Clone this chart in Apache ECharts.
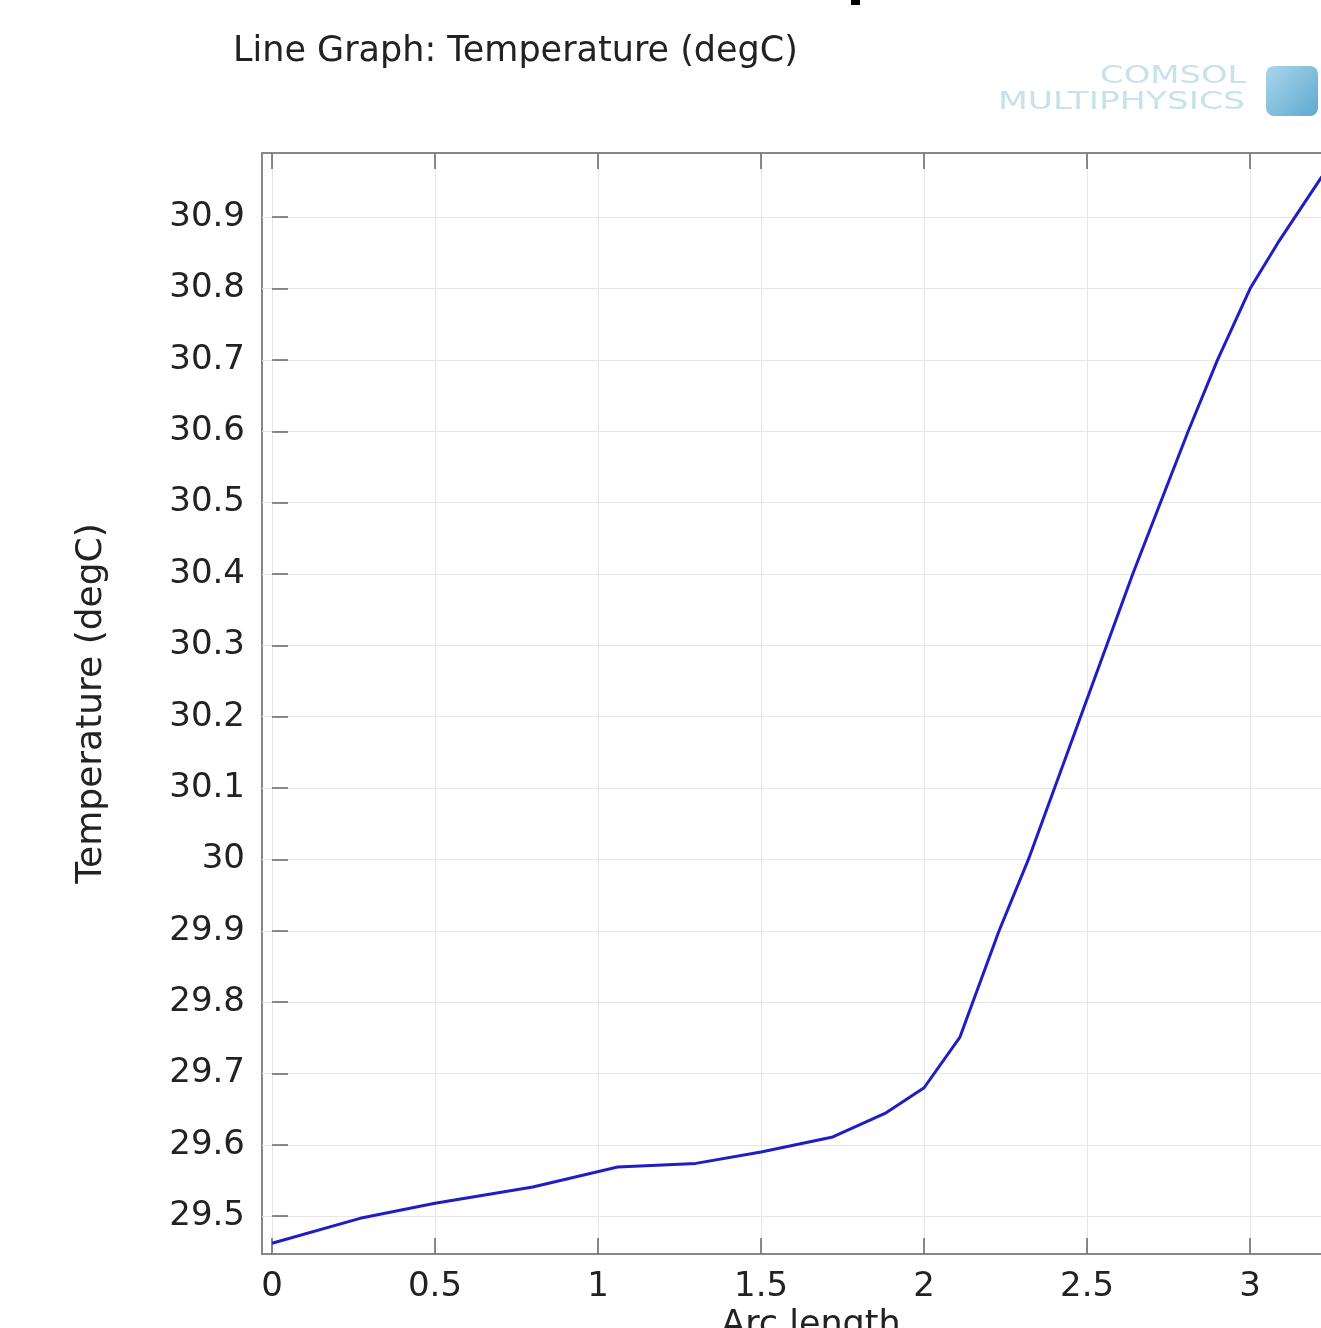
<!DOCTYPE html>
<html>
<head>
<meta charset="utf-8">
<script src="https://cdn.jsdelivr.net/npm/echarts@6/dist/echarts.min.js"></script>
<style>
  html, body {margin: 0; padding: 0; background: #fff; overflow: hidden;}
  #chart {width: 1400px; height: 1328px;}
</style>
</head>
<body>
<div id="chart"></div>
<script>
// values
const arcLength = [0, 0.27, 0.5, 0.8, 1.06, 1.3, 1.5, 1.72, 1.88, 2.0, 2.11, 2.23, 2.32, 2.48, 2.64, 2.81, 2.9, 3.0, 3.085, 3.22];
const temperature = [29.462, 29.497, 29.518, 29.541, 29.569, 29.574, 29.59, 29.611, 29.644, 29.68, 29.751, 29.9, 30.0, 30.2, 30.4, 30.6, 30.7, 30.8, 30.864, 30.957];
const xTicks = [0, 0.5, 1, 1.5, 2, 2.5, 3];
const yTicks = [29.5, 29.6, 29.7, 29.8, 29.9, 30, 30.1, 30.2, 30.3, 30.4, 30.5, 30.6, 30.7, 30.8, 30.9];

const font = 'DejaVu Sans';
const tickStyle = {show: true, inside: true, length: 16, lineStyle: {color: '#666', width: 1.5}};
const gridLine = {show: true, lineStyle: {color: '#e6e6e6', width: 1}};

const chart = echarts.init(document.getElementById('chart'));
chart.setOption({
  animation: false,
  backgroundColor: '#fff',
  title: {
    text: 'Line Graph: Temperature (degC)',
    left: 228,
    top: 29,
    textStyle: {fontFamily: font, fontSize: 35, fontWeight: 'normal', color: '#222'}
  },
  grid: {
    left: 262, top: 153, width: 1098, height: 1101,
    outerBoundsMode: 'none',
    show: true, borderColor: '#888', borderWidth: 2, backgroundColor: '#fff'
  },
  xAxis: [{
    type: 'value',
    min: -0.0307,
    max: 3.337,
    name: 'Arc length',
    nameLocation: 'middle',
    nameGap: 44,
    nameTextStyle: {fontFamily: font, fontSize: 35, color: '#222'},
    axisLine: {show: false},
    axisTick: {...tickStyle, customValues: xTicks},
    axisLabel: {customValues: xTicks, fontFamily: font, fontSize: 34, color: '#222', margin: 16},
    splitLine: gridLine
  }, {
    type: 'value',
    position: 'top',
    min: -0.0307,
    max: 3.337,
    axisLine: {show: false},
    axisTick: {...tickStyle, customValues: xTicks},
    axisLabel: {show: false, customValues: xTicks},
    splitLine: {show: false}
  }],
  yAxis: {
    type: 'value',
    min: 29.447,
    max: 30.99,
    name: 'Temperature (degC)',
    nameLocation: 'middle',
    nameGap: 152,
    nameTextStyle: {fontFamily: font, fontSize: 36, color: '#222'},
    axisLine: {show: false},
    axisTick: {...tickStyle, customValues: yTicks},
    axisLabel: {customValues: yTicks, fontFamily: font, fontSize: 34, color: '#222', margin: 17},
    splitLine: gridLine
  },
  graphic: [
    {type: 'rect', left: 851, top: 0, shape: {width: 9, height: 5}, style: {fill: '#000'}},
    {type: 'text', x: 1100, y: 65, scaleX: 1.41,
      style: {text: 'COMSOL', fontFamily: font, fontSize: 24, fill: '#c6e2ea'}},
    {type: 'text', x: 998, y: 91, scaleX: 1.44,
      style: {text: 'MULTIPHYSICS', fontFamily: font, fontSize: 24, fill: '#c6e2ea'}},
    {type: 'rect', x: 1266, y: 66, shape: {width: 52, height: 50, r: 8},
      style: {fill: new echarts.graphic.LinearGradient(0, 0, 1, 1, [
        {offset: 0, color: '#a9d6ea'}, {offset: 1, color: '#5ea9cf'}])}}
  ],
  series: [{
    type: 'line',
    xAxisIndex: 0,
    data: arcLength.map((x, i) => [x, temperature[i]]),
    showSymbol: false,
    lineStyle: {color: '#1e1ec4', width: 3},
    silent: true
  }]
});
</script>
</body>
</html>
